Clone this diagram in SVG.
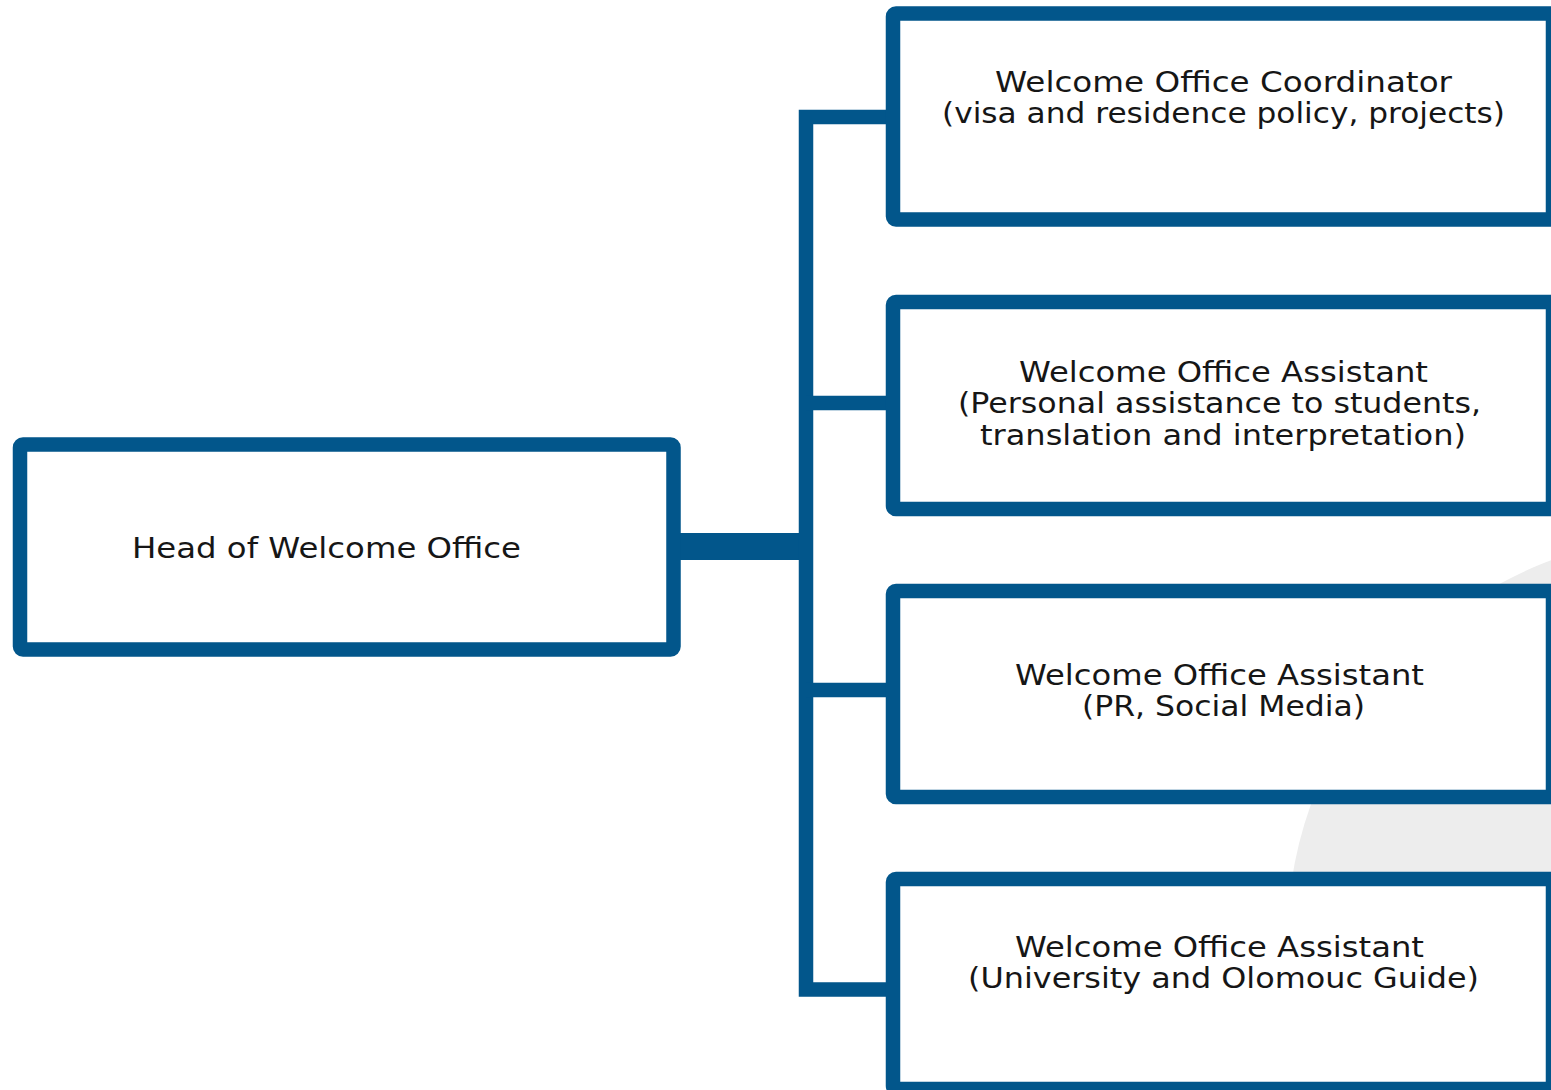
<svg xmlns="http://www.w3.org/2000/svg" width="1551" height="1090" viewBox="0 0 1551 1090">
<style>
.box{fill:#ffffff;stroke:#02568b;stroke-width:14.5;stroke-linejoin:round}
.conn{fill:none;stroke:#02568b;stroke-linecap:butt;stroke-linejoin:miter}
.t{font-family:"DejaVu Sans","Noto Sans",sans-serif;font-size:28px;fill:#161616;text-anchor:middle}
</style>
<rect width="1551" height="1090" fill="#ffffff"/>
<circle cx="1695" cy="942" r="408" fill="#ededed"/>
<g id="connectors">
<line class="conn" x1="680" y1="546.5" x2="806" y2="546.5" stroke-width="27"/>
<polyline class="conn" points="893,117 806,117 806,989.5 893,989.5" stroke-width="14.5"/>
<line class="conn" x1="806" y1="403" x2="893" y2="403" stroke-width="14.5"/>
<line class="conn" x1="806" y1="690" x2="893" y2="690" stroke-width="14.5"/>
</g>
<g id="head">
<rect class="box" x="20" y="444.5" width="653.5" height="205" rx="3"/>
<text class="t" x="326.5" y="558" textLength="389" lengthAdjust="spacingAndGlyphs">Head of Welcome Office</text>
</g>
<g id="coordinator">
<rect class="box" x="893" y="13.5" width="660" height="206" rx="3"/>
<text class="t" x="1223.5" y="92" textLength="457" lengthAdjust="spacingAndGlyphs">Welcome Office Coordinator</text>
<text class="t" x="1223.5" y="123" textLength="563" lengthAdjust="spacingAndGlyphs">(visa and residence policy, projects)</text>
</g>
<g id="assistant-personal">
<rect class="box" x="893" y="302" width="660" height="207" rx="3"/>
<text class="t" x="1223.5" y="382" textLength="409" lengthAdjust="spacingAndGlyphs">Welcome Office Assistant</text>
<text class="t" x="1219.5" y="413" textLength="523" lengthAdjust="spacingAndGlyphs">(Personal assistance to students,</text>
<text class="t" x="1223" y="445" textLength="486" lengthAdjust="spacingAndGlyphs">translation and interpretation)</text>
</g>
<g id="assistant-pr">
<rect class="box" x="893" y="591" width="660" height="206" rx="3"/>
<text class="t" x="1219.5" y="685" textLength="409" lengthAdjust="spacingAndGlyphs">Welcome Office Assistant</text>
<text class="t" x="1223.5" y="716" textLength="283" lengthAdjust="spacingAndGlyphs">(PR, Social Media)</text>
</g>
<g id="assistant-guide">
<rect class="box" x="893" y="879" width="660" height="210" rx="3"/>
<text class="t" x="1219.5" y="957" textLength="409" lengthAdjust="spacingAndGlyphs">Welcome Office Assistant</text>
<text class="t" x="1223.5" y="988" textLength="511" lengthAdjust="spacingAndGlyphs">(University and Olomouc Guide)</text>
</g>
</svg>
